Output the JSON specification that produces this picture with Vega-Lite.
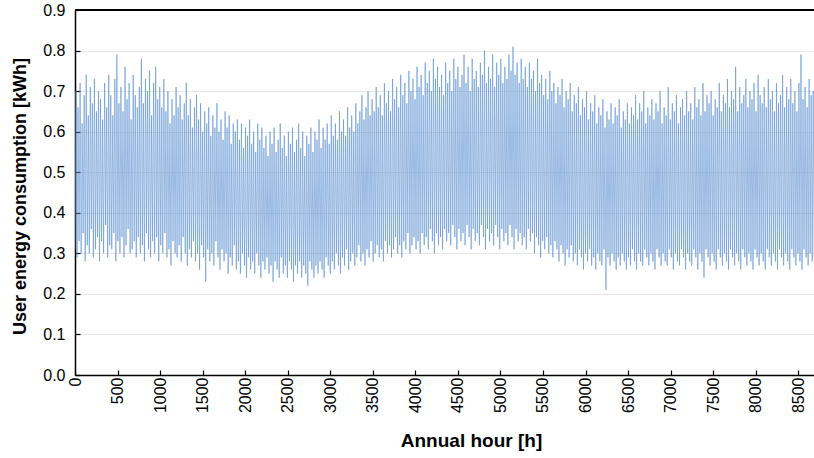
{
  "$schema": "https://vega.github.io/schema/vega-lite/v6.json",
  "autosize": "none",
  "width": 739,
  "height": 365,
  "padding": {"left": 75, "top": 10, "right": 0, "bottom": 83},
  "background": "white",
  "config": {
    "view": {"stroke": null},
    "font": "Liberation Sans",
    "axis": {
      "domainColor": "black",
      "domainWidth": 1.5,
      "tickColor": "black",
      "tickWidth": 1.2,
      "gridColor": "#e6e6e6",
      "gridWidth": 1,
      "labelFont": "Liberation Sans",
      "labelFontSize": 16,
      "labelColor": "black",
      "titleFont": "Liberation Sans",
      "titleFontSize": 18,
      "titleFontWeight": "bold",
      "titleColor": "black"
    }
  },
  "data": {"values": [
{"h":0,"v":0.31},{"h":12,"v":0.70},{"h":24,"v":0.29},{"h":36,"v":0.66},{"h":48,"v":0.33},{"h":60,"v":0.72},{"h":72,"v":0.30},{"h":84,"v":0.62},{"h":96,"v":0.35},{"h":108,"v":0.69},{"h":120,"v":0.28},{"h":132,"v":0.74},{"h":144,"v":0.32},{"h":156,"v":0.64},{"h":168,"v":0.30},{"h":180,"v":0.71},{"h":192,"v":0.36},{"h":204,"v":0.67},{"h":216,"v":0.29},{"h":228,"v":0.73},
{"h":240,"v":0.31},{"h":252,"v":0.65},{"h":264,"v":0.34},{"h":276,"v":0.70},{"h":288,"v":0.28},{"h":300,"v":0.68},{"h":312,"v":0.33},{"h":324,"v":0.63},{"h":336,"v":0.30},{"h":348,"v":0.72},{"h":360,"v":0.37},{"h":372,"v":0.66},{"h":384,"v":0.29},{"h":396,"v":0.74},{"h":408,"v":0.32},{"h":420,"v":0.69},{"h":432,"v":0.31},{"h":444,"v":0.64},{"h":456,"v":0.35},{"h":468,"v":0.73},
{"h":480,"v":0.28},{"h":492,"v":0.79},{"h":504,"v":0.33},{"h":516,"v":0.67},{"h":528,"v":0.30},{"h":540,"v":0.71},{"h":552,"v":0.34},{"h":564,"v":0.65},{"h":576,"v":0.29},{"h":588,"v":0.76},{"h":600,"v":0.32},{"h":612,"v":0.68},{"h":624,"v":0.36},{"h":636,"v":0.72},{"h":648,"v":0.30},{"h":660,"v":0.63},{"h":672,"v":0.31},{"h":684,"v":0.74},{"h":696,"v":0.33},{"h":708,"v":0.69},
{"h":720,"v":0.29},{"h":732,"v":0.66},{"h":744,"v":0.34},{"h":756,"v":0.71},{"h":768,"v":0.30},{"h":780,"v":0.78},{"h":792,"v":0.32},{"h":804,"v":0.67},{"h":816,"v":0.28},{"h":828,"v":0.73},{"h":840,"v":0.35},{"h":852,"v":0.70},{"h":864,"v":0.31},{"h":876,"v":0.75},{"h":888,"v":0.29},{"h":900,"v":0.64},{"h":912,"v":0.33},{"h":924,"v":0.72},{"h":936,"v":0.30},{"h":948,"v":0.76},
{"h":960,"v":0.34},{"h":972,"v":0.68},{"h":984,"v":0.28},{"h":996,"v":0.71},{"h":1008,"v":0.32},{"h":1020,"v":0.66},{"h":1032,"v":0.30},{"h":1044,"v":0.73},{"h":1056,"v":0.35},{"h":1068,"v":0.65},{"h":1080,"v":0.29},{"h":1092,"v":0.70},{"h":1104,"v":0.31},{"h":1116,"v":0.62},{"h":1128,"v":0.27},{"h":1140,"v":0.68},{"h":1152,"v":0.33},{"h":1164,"v":0.64},{"h":1176,"v":0.30},{"h":1188,"v":0.71},
{"h":1200,"v":0.29},{"h":1212,"v":0.66},{"h":1224,"v":0.32},{"h":1236,"v":0.69},{"h":1248,"v":0.28},{"h":1260,"v":0.63},{"h":1272,"v":0.34},{"h":1284,"v":0.67},{"h":1296,"v":0.30},{"h":1308,"v":0.72},{"h":1320,"v":0.27},{"h":1332,"v":0.64},{"h":1344,"v":0.31},{"h":1356,"v":0.68},{"h":1368,"v":0.29},{"h":1380,"v":0.61},{"h":1392,"v":0.33},{"h":1404,"v":0.66},{"h":1416,"v":0.28},{"h":1428,"v":0.69},
{"h":1440,"v":0.30},{"h":1452,"v":0.63},{"h":1464,"v":0.26},{"h":1476,"v":0.67},{"h":1488,"v":0.32},{"h":1500,"v":0.60},{"h":1512,"v":0.29},{"h":1524,"v":0.65},{"h":1536,"v":0.23},{"h":1548,"v":0.62},{"h":1560,"v":0.31},{"h":1572,"v":0.66},{"h":1584,"v":0.28},{"h":1596,"v":0.59},{"h":1608,"v":0.30},{"h":1620,"v":0.64},{"h":1632,"v":0.27},{"h":1644,"v":0.61},{"h":1656,"v":0.33},{"h":1668,"v":0.67},
{"h":1680,"v":0.29},{"h":1692,"v":0.60},{"h":1704,"v":0.26},{"h":1716,"v":0.63},{"h":1728,"v":0.31},{"h":1740,"v":0.58},{"h":1752,"v":0.28},{"h":1764,"v":0.65},{"h":1776,"v":0.30},{"h":1788,"v":0.61},{"h":1800,"v":0.25},{"h":1812,"v":0.64},{"h":1824,"v":0.29},{"h":1836,"v":0.57},{"h":1848,"v":0.27},{"h":1860,"v":0.62},{"h":1872,"v":0.32},{"h":1884,"v":0.60},{"h":1896,"v":0.26},{"h":1908,"v":0.63},
{"h":1920,"v":0.28},{"h":1932,"v":0.58},{"h":1944,"v":0.25},{"h":1956,"v":0.62},{"h":1968,"v":0.30},{"h":1980,"v":0.56},{"h":1992,"v":0.27},{"h":2004,"v":0.61},{"h":2016,"v":0.24},{"h":2028,"v":0.59},{"h":2040,"v":0.29},{"h":2052,"v":0.63},{"h":2064,"v":0.26},{"h":2076,"v":0.57},{"h":2088,"v":0.28},{"h":2100,"v":0.60},{"h":2112,"v":0.25},{"h":2124,"v":0.55},{"h":2136,"v":0.30},{"h":2148,"v":0.62},
{"h":2160,"v":0.27},{"h":2172,"v":0.58},{"h":2184,"v":0.24},{"h":2196,"v":0.61},{"h":2208,"v":0.28},{"h":2220,"v":0.56},{"h":2232,"v":0.26},{"h":2244,"v":0.59},{"h":2256,"v":0.29},{"h":2268,"v":0.54},{"h":2280,"v":0.25},{"h":2292,"v":0.60},{"h":2304,"v":0.27},{"h":2316,"v":0.57},{"h":2328,"v":0.23},{"h":2340,"v":0.61},{"h":2352,"v":0.28},{"h":2364,"v":0.55},{"h":2376,"v":0.26},{"h":2388,"v":0.58},
{"h":2400,"v":0.24},{"h":2412,"v":0.62},{"h":2424,"v":0.29},{"h":2436,"v":0.56},{"h":2448,"v":0.25},{"h":2460,"v":0.59},{"h":2472,"v":0.27},{"h":2484,"v":0.54},{"h":2496,"v":0.24},{"h":2508,"v":0.60},{"h":2520,"v":0.28},{"h":2532,"v":0.57},{"h":2544,"v":0.26},{"h":2556,"v":0.61},{"h":2568,"v":0.23},{"h":2580,"v":0.55},{"h":2592,"v":0.27},{"h":2604,"v":0.58},{"h":2616,"v":0.25},{"h":2628,"v":0.62},
{"h":2640,"v":0.28},{"h":2652,"v":0.56},{"h":2664,"v":0.24},{"h":2676,"v":0.60},{"h":2688,"v":0.27},{"h":2700,"v":0.54},{"h":2712,"v":0.25},{"h":2724,"v":0.59},{"h":2736,"v":0.22},{"h":2748,"v":0.57},{"h":2760,"v":0.28},{"h":2772,"v":0.61},{"h":2784,"v":0.26},{"h":2796,"v":0.55},{"h":2808,"v":0.24},{"h":2820,"v":0.60},{"h":2832,"v":0.27},{"h":2844,"v":0.58},{"h":2856,"v":0.25},{"h":2868,"v":0.63},
{"h":2880,"v":0.28},{"h":2892,"v":0.56},{"h":2904,"v":0.26},{"h":2916,"v":0.61},{"h":2928,"v":0.24},{"h":2940,"v":0.58},{"h":2952,"v":0.29},{"h":2964,"v":0.62},{"h":2976,"v":0.27},{"h":2988,"v":0.57},{"h":3000,"v":0.25},{"h":3012,"v":0.64},{"h":3024,"v":0.28},{"h":3036,"v":0.59},{"h":3048,"v":0.26},{"h":3060,"v":0.62},{"h":3072,"v":0.30},{"h":3084,"v":0.58},{"h":3096,"v":0.27},{"h":3108,"v":0.65},
{"h":3120,"v":0.25},{"h":3132,"v":0.60},{"h":3144,"v":0.29},{"h":3156,"v":0.63},{"h":3168,"v":0.27},{"h":3180,"v":0.59},{"h":3192,"v":0.31},{"h":3204,"v":0.66},{"h":3216,"v":0.26},{"h":3228,"v":0.61},{"h":3240,"v":0.28},{"h":3252,"v":0.64},{"h":3264,"v":0.30},{"h":3276,"v":0.60},{"h":3288,"v":0.27},{"h":3300,"v":0.67},{"h":3312,"v":0.29},{"h":3324,"v":0.62},{"h":3336,"v":0.32},{"h":3348,"v":0.65},
{"h":3360,"v":0.28},{"h":3372,"v":0.69},{"h":3384,"v":0.30},{"h":3396,"v":0.63},{"h":3408,"v":0.27},{"h":3420,"v":0.66},{"h":3432,"v":0.31},{"h":3444,"v":0.70},{"h":3456,"v":0.29},{"h":3468,"v":0.64},{"h":3480,"v":0.33},{"h":3492,"v":0.68},{"h":3504,"v":0.28},{"h":3516,"v":0.65},{"h":3528,"v":0.30},{"h":3540,"v":0.71},{"h":3552,"v":0.32},{"h":3564,"v":0.66},{"h":3576,"v":0.29},{"h":3588,"v":0.69},
{"h":3600,"v":0.31},{"h":3612,"v":0.64},{"h":3624,"v":0.28},{"h":3636,"v":0.72},{"h":3648,"v":0.33},{"h":3660,"v":0.67},{"h":3672,"v":0.30},{"h":3684,"v":0.70},{"h":3696,"v":0.32},{"h":3708,"v":0.65},{"h":3720,"v":0.29},{"h":3732,"v":0.73},{"h":3744,"v":0.31},{"h":3756,"v":0.68},{"h":3768,"v":0.34},{"h":3780,"v":0.71},{"h":3792,"v":0.30},{"h":3804,"v":0.66},{"h":3816,"v":0.32},{"h":3828,"v":0.74},
{"h":3840,"v":0.29},{"h":3852,"v":0.69},{"h":3864,"v":0.33},{"h":3876,"v":0.72},{"h":3888,"v":0.31},{"h":3900,"v":0.67},{"h":3912,"v":0.35},{"h":3924,"v":0.75},{"h":3936,"v":0.30},{"h":3948,"v":0.70},{"h":3960,"v":0.32},{"h":3972,"v":0.73},{"h":3984,"v":0.34},{"h":3996,"v":0.68},{"h":4008,"v":0.31},{"h":4020,"v":0.76},{"h":4032,"v":0.33},{"h":4044,"v":0.71},{"h":4056,"v":0.30},{"h":4068,"v":0.74},
{"h":4080,"v":0.35},{"h":4092,"v":0.69},{"h":4104,"v":0.32},{"h":4116,"v":0.77},{"h":4128,"v":0.34},{"h":4140,"v":0.72},{"h":4152,"v":0.31},{"h":4164,"v":0.75},{"h":4176,"v":0.36},{"h":4188,"v":0.70},{"h":4200,"v":0.33},{"h":4212,"v":0.78},{"h":4224,"v":0.30},{"h":4236,"v":0.73},{"h":4248,"v":0.35},{"h":4260,"v":0.76},{"h":4272,"v":0.32},{"h":4284,"v":0.71},{"h":4296,"v":0.34},{"h":4308,"v":0.74},
{"h":4320,"v":0.31},{"h":4332,"v":0.69},{"h":4344,"v":0.36},{"h":4356,"v":0.77},{"h":4368,"v":0.33},{"h":4380,"v":0.72},{"h":4392,"v":0.35},{"h":4404,"v":0.75},{"h":4416,"v":0.32},{"h":4428,"v":0.70},{"h":4440,"v":0.37},{"h":4452,"v":0.78},{"h":4464,"v":0.34},{"h":4476,"v":0.73},{"h":4488,"v":0.31},{"h":4500,"v":0.76},{"h":4512,"v":0.36},{"h":4524,"v":0.71},{"h":4536,"v":0.33},{"h":4548,"v":0.74},
{"h":4560,"v":0.35},{"h":4572,"v":0.79},{"h":4584,"v":0.32},{"h":4596,"v":0.72},{"h":4608,"v":0.37},{"h":4620,"v":0.76},{"h":4632,"v":0.34},{"h":4644,"v":0.70},{"h":4656,"v":0.31},{"h":4668,"v":0.78},{"h":4680,"v":0.36},{"h":4692,"v":0.73},{"h":4704,"v":0.33},{"h":4716,"v":0.75},{"h":4728,"v":0.35},{"h":4740,"v":0.71},{"h":4752,"v":0.32},{"h":4764,"v":0.77},{"h":4776,"v":0.37},{"h":4788,"v":0.74},
{"h":4800,"v":0.34},{"h":4812,"v":0.80},{"h":4824,"v":0.31},{"h":4836,"v":0.72},{"h":4848,"v":0.36},{"h":4860,"v":0.76},{"h":4872,"v":0.33},{"h":4884,"v":0.73},{"h":4896,"v":0.35},{"h":4908,"v":0.79},{"h":4920,"v":0.32},{"h":4932,"v":0.71},{"h":4944,"v":0.37},{"h":4956,"v":0.77},{"h":4968,"v":0.34},{"h":4980,"v":0.74},{"h":4992,"v":0.31},{"h":5004,"v":0.78},{"h":5016,"v":0.36},{"h":5028,"v":0.72},
{"h":5040,"v":0.33},{"h":5052,"v":0.76},{"h":5064,"v":0.35},{"h":5076,"v":0.73},{"h":5088,"v":0.32},{"h":5100,"v":0.79},{"h":5112,"v":0.37},{"h":5124,"v":0.75},{"h":5136,"v":0.34},{"h":5148,"v":0.81},{"h":5160,"v":0.31},{"h":5172,"v":0.74},{"h":5184,"v":0.36},{"h":5196,"v":0.77},{"h":5208,"v":0.33},{"h":5220,"v":0.72},{"h":5232,"v":0.35},{"h":5244,"v":0.78},{"h":5256,"v":0.32},{"h":5268,"v":0.73},
{"h":5280,"v":0.34},{"h":5292,"v":0.76},{"h":5304,"v":0.31},{"h":5316,"v":0.71},{"h":5328,"v":0.36},{"h":5340,"v":0.77},{"h":5352,"v":0.33},{"h":5364,"v":0.73},{"h":5376,"v":0.35},{"h":5388,"v":0.75},{"h":5400,"v":0.30},{"h":5412,"v":0.70},{"h":5424,"v":0.34},{"h":5436,"v":0.78},{"h":5448,"v":0.32},{"h":5460,"v":0.72},{"h":5472,"v":0.29},{"h":5484,"v":0.74},{"h":5496,"v":0.33},{"h":5508,"v":0.69},
{"h":5520,"v":0.31},{"h":5532,"v":0.73},{"h":5544,"v":0.34},{"h":5556,"v":0.68},{"h":5568,"v":0.30},{"h":5580,"v":0.75},{"h":5592,"v":0.32},{"h":5604,"v":0.70},{"h":5616,"v":0.29},{"h":5628,"v":0.72},{"h":5640,"v":0.33},{"h":5652,"v":0.67},{"h":5664,"v":0.31},{"h":5676,"v":0.71},{"h":5688,"v":0.28},{"h":5700,"v":0.69},{"h":5712,"v":0.32},{"h":5724,"v":0.73},{"h":5736,"v":0.30},{"h":5748,"v":0.66},
{"h":5760,"v":0.27},{"h":5772,"v":0.70},{"h":5784,"v":0.31},{"h":5796,"v":0.68},{"h":5808,"v":0.29},{"h":5820,"v":0.72},{"h":5832,"v":0.32},{"h":5844,"v":0.65},{"h":5856,"v":0.28},{"h":5868,"v":0.69},{"h":5880,"v":0.30},{"h":5892,"v":0.67},{"h":5904,"v":0.27},{"h":5916,"v":0.71},{"h":5928,"v":0.31},{"h":5940,"v":0.64},{"h":5952,"v":0.29},{"h":5964,"v":0.68},{"h":5976,"v":0.26},{"h":5988,"v":0.66},
{"h":6000,"v":0.30},{"h":6012,"v":0.70},{"h":6024,"v":0.28},{"h":6036,"v":0.63},{"h":6048,"v":0.31},{"h":6060,"v":0.67},{"h":6072,"v":0.27},{"h":6084,"v":0.65},{"h":6096,"v":0.29},{"h":6108,"v":0.69},{"h":6120,"v":0.26},{"h":6132,"v":0.62},{"h":6144,"v":0.30},{"h":6156,"v":0.66},{"h":6168,"v":0.28},{"h":6180,"v":0.64},{"h":6192,"v":0.27},{"h":6204,"v":0.68},{"h":6216,"v":0.31},{"h":6228,"v":0.61},
{"h":6240,"v":0.21},{"h":6252,"v":0.65},{"h":6264,"v":0.29},{"h":6276,"v":0.63},{"h":6288,"v":0.27},{"h":6300,"v":0.67},{"h":6312,"v":0.30},{"h":6324,"v":0.62},{"h":6336,"v":0.28},{"h":6348,"v":0.66},{"h":6360,"v":0.26},{"h":6372,"v":0.64},{"h":6384,"v":0.29},{"h":6396,"v":0.68},{"h":6408,"v":0.27},{"h":6420,"v":0.61},{"h":6432,"v":0.30},{"h":6444,"v":0.65},{"h":6456,"v":0.28},{"h":6468,"v":0.63},
{"h":6480,"v":0.26},{"h":6492,"v":0.67},{"h":6504,"v":0.29},{"h":6516,"v":0.62},{"h":6528,"v":0.27},{"h":6540,"v":0.66},{"h":6552,"v":0.31},{"h":6564,"v":0.64},{"h":6576,"v":0.28},{"h":6588,"v":0.69},{"h":6600,"v":0.26},{"h":6612,"v":0.63},{"h":6624,"v":0.30},{"h":6636,"v":0.67},{"h":6648,"v":0.28},{"h":6660,"v":0.65},{"h":6672,"v":0.27},{"h":6684,"v":0.70},{"h":6696,"v":0.31},{"h":6708,"v":0.62},
{"h":6720,"v":0.29},{"h":6732,"v":0.66},{"h":6744,"v":0.27},{"h":6756,"v":0.64},{"h":6768,"v":0.30},{"h":6780,"v":0.68},{"h":6792,"v":0.28},{"h":6804,"v":0.63},{"h":6816,"v":0.26},{"h":6828,"v":0.67},{"h":6840,"v":0.31},{"h":6852,"v":0.65},{"h":6864,"v":0.29},{"h":6876,"v":0.70},{"h":6888,"v":0.27},{"h":6900,"v":0.62},{"h":6912,"v":0.30},{"h":6924,"v":0.66},{"h":6936,"v":0.28},{"h":6948,"v":0.64},
{"h":6960,"v":0.27},{"h":6972,"v":0.71},{"h":6984,"v":0.31},{"h":6996,"v":0.63},{"h":7008,"v":0.29},{"h":7020,"v":0.67},{"h":7032,"v":0.26},{"h":7044,"v":0.65},{"h":7056,"v":0.30},{"h":7068,"v":0.69},{"h":7080,"v":0.28},{"h":7092,"v":0.62},{"h":7104,"v":0.27},{"h":7116,"v":0.66},{"h":7128,"v":0.31},{"h":7140,"v":0.68},{"h":7152,"v":0.29},{"h":7164,"v":0.64},{"h":7176,"v":0.26},{"h":7188,"v":0.70},
{"h":7200,"v":0.30},{"h":7212,"v":0.65},{"h":7224,"v":0.28},{"h":7236,"v":0.67},{"h":7248,"v":0.27},{"h":7260,"v":0.63},{"h":7272,"v":0.31},{"h":7284,"v":0.71},{"h":7296,"v":0.29},{"h":7308,"v":0.66},{"h":7320,"v":0.26},{"h":7332,"v":0.68},{"h":7344,"v":0.30},{"h":7356,"v":0.64},{"h":7368,"v":0.28},{"h":7380,"v":0.72},{"h":7392,"v":0.24},{"h":7404,"v":0.65},{"h":7416,"v":0.31},{"h":7428,"v":0.69},
{"h":7440,"v":0.29},{"h":7452,"v":0.67},{"h":7464,"v":0.27},{"h":7476,"v":0.70},{"h":7488,"v":0.30},{"h":7500,"v":0.64},{"h":7512,"v":0.28},{"h":7524,"v":0.68},{"h":7536,"v":0.26},{"h":7548,"v":0.66},{"h":7560,"v":0.31},{"h":7572,"v":0.72},{"h":7584,"v":0.29},{"h":7596,"v":0.65},{"h":7608,"v":0.27},{"h":7620,"v":0.69},{"h":7632,"v":0.30},{"h":7644,"v":0.67},{"h":7656,"v":0.28},{"h":7668,"v":0.73},
{"h":7680,"v":0.26},{"h":7692,"v":0.66},{"h":7704,"v":0.31},{"h":7716,"v":0.70},{"h":7728,"v":0.29},{"h":7740,"v":0.68},{"h":7752,"v":0.27},{"h":7764,"v":0.76},{"h":7776,"v":0.30},{"h":7788,"v":0.65},{"h":7800,"v":0.28},{"h":7812,"v":0.71},{"h":7824,"v":0.26},{"h":7836,"v":0.67},{"h":7848,"v":0.31},{"h":7860,"v":0.69},{"h":7872,"v":0.29},{"h":7884,"v":0.73},{"h":7896,"v":0.27},{"h":7908,"v":0.66},
{"h":7920,"v":0.30},{"h":7932,"v":0.70},{"h":7944,"v":0.28},{"h":7956,"v":0.68},{"h":7968,"v":0.26},{"h":7980,"v":0.72},{"h":7992,"v":0.31},{"h":8004,"v":0.65},{"h":8016,"v":0.29},{"h":8028,"v":0.74},{"h":8040,"v":0.27},{"h":8052,"v":0.69},{"h":8064,"v":0.30},{"h":8076,"v":0.67},{"h":8088,"v":0.28},{"h":8100,"v":0.71},{"h":8112,"v":0.26},{"h":8124,"v":0.66},{"h":8136,"v":0.31},{"h":8148,"v":0.73},
{"h":8160,"v":0.29},{"h":8172,"v":0.68},{"h":8184,"v":0.27},{"h":8196,"v":0.70},{"h":8208,"v":0.30},{"h":8220,"v":0.65},{"h":8232,"v":0.28},{"h":8244,"v":0.72},{"h":8256,"v":0.26},{"h":8268,"v":0.67},{"h":8280,"v":0.31},{"h":8292,"v":0.69},{"h":8304,"v":0.29},{"h":8316,"v":0.74},{"h":8328,"v":0.27},{"h":8340,"v":0.66},{"h":8352,"v":0.30},{"h":8364,"v":0.71},{"h":8376,"v":0.28},{"h":8388,"v":0.68},
{"h":8400,"v":0.26},{"h":8412,"v":0.73},{"h":8424,"v":0.31},{"h":8436,"v":0.67},{"h":8448,"v":0.29},{"h":8460,"v":0.70},{"h":8472,"v":0.27},{"h":8484,"v":0.65},{"h":8496,"v":0.30},{"h":8508,"v":0.72},{"h":8520,"v":0.28},{"h":8532,"v":0.79},{"h":8544,"v":0.26},{"h":8556,"v":0.68},{"h":8568,"v":0.31},{"h":8580,"v":0.71},{"h":8592,"v":0.29},{"h":8604,"v":0.66},{"h":8616,"v":0.27},{"h":8628,"v":0.73},
{"h":8640,"v":0.30},{"h":8652,"v":0.69},{"h":8664,"v":0.28},{"h":8676,"v":0.70},{"h":8688,"v":0.29}
  ]},
  "layer": [
    {
      "mark": {"type": "line", "clip": true, "color": "#5b8fd0", "strokeWidth": 0.8, "opacity": 0.75},
      "encoding": {
        "x": {
          "field": "h", "type": "quantitative",
          "scale": {"domain": [0, 8685], "nice": false, "zero": false},
          "axis": {
            "title": "Annual hour [h]",
            "values": [0,500,1000,1500,2000,2500,3000,3500,4000,4500,5000,5500,6000,6500,7000,7500,8000,8500],
            "format": "d",
            "labelAngle": -90,
            "labelAlign": "right",
            "labelBaseline": "middle",
            "grid": false,
            "tickSize": -5,
            "labelPadding": 7,
            "labelFlush": false,
            "labelOverlap": false,
            "titleFontSize": 19,
            "titleX": 396,
            "titleY": 65,
            "titleBaseline": "middle"
          }
        },
        "y": {
          "field": "v", "type": "quantitative",
          "scale": {"domain": [0, 0.9], "nice": false},
          "axis": {
            "title": "User energy consumption [kWh]",
            "values": [0,0.1,0.2,0.3,0.4,0.5,0.6,0.7,0.8,0.9],
            "format": ".1f",
            "grid": true,
            "tickSize": -5,
            "labelPadding": 15,
            "labelFlush": false,
            "labelOverlap": false,
            "titleX": -55,
            "titleY": 186,
            "titleBaseline": "middle"
          }
        }
      }
    },
    {
      "mark": {"type": "rule", "color": "black", "strokeWidth": 2},
      "encoding": {"y": {"datum": 0.9}}
    }
  ]
}
